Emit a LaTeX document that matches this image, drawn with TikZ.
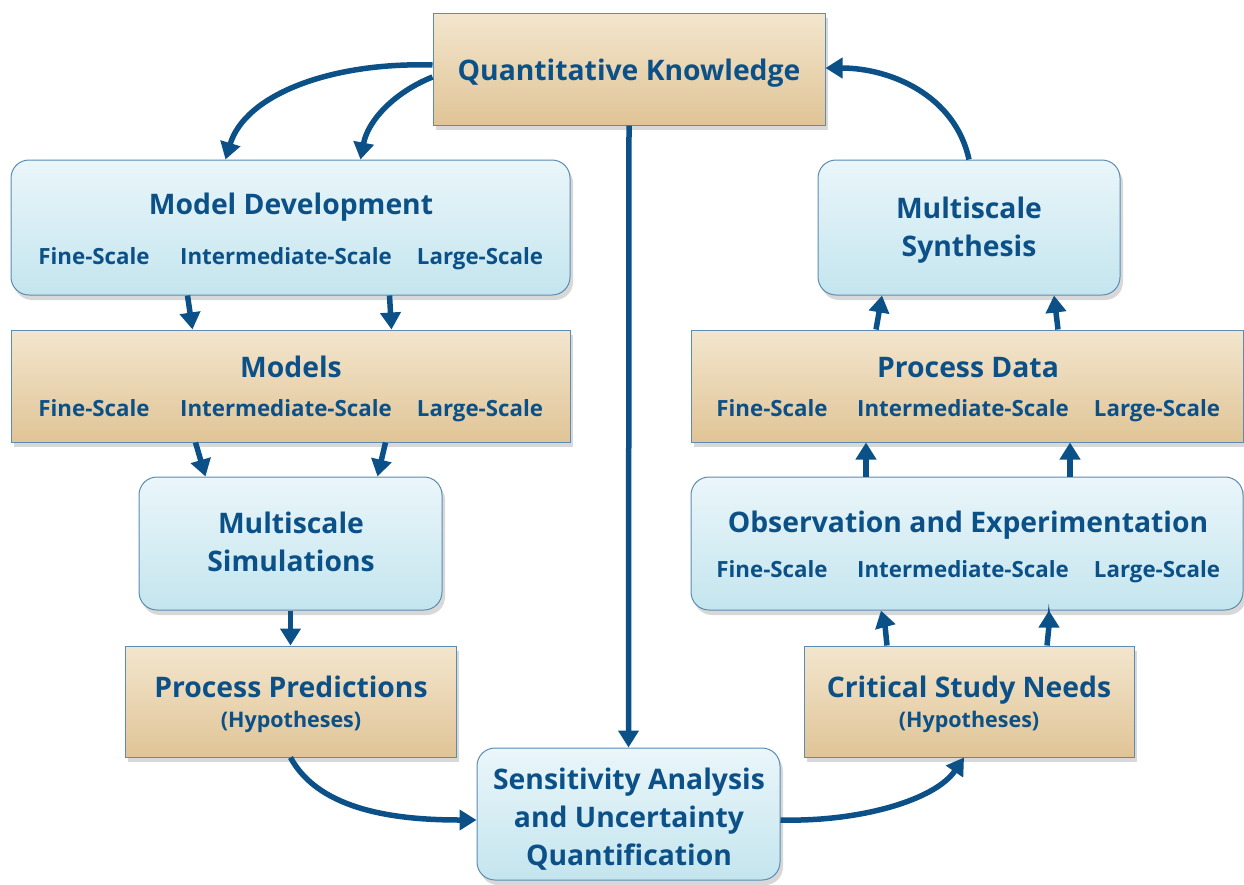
\documentclass[tikz,border=0pt]{standalone}
\usepackage{fontspec}
\setmainfont{Open Sans}
\usetikzlibrary{arrows.meta,shadows,calc}
\definecolor{dblue}{RGB}{12,80,136}
\definecolor{bordc}{RGB}{90,140,180}
\definecolor{tantop}{RGB}{243,230,206}
\definecolor{tanbot}{RGB}{224,196,150}
\definecolor{bluetop}{RGB}{234,246,250}
\definecolor{bluebot}{RGB}{196,229,238}
\tikzset{
  boxshadow/.style={drop shadow={shadow xshift=3pt,shadow yshift=-5pt,opacity=0.22,fill=black!70}},
  tanbox/.style={draw=bordc,line width=1pt,top color=tantop,bottom color=tanbot,boxshadow,inner sep=0pt},
  bluebox/.style={draw=bordc,line width=1pt,top color=bluetop,bottom color=bluebot,rounded corners=18pt,boxshadow,inner sep=0pt},
  ttl/.style={anchor=base,text=dblue,font=\fontsize{28.3}{33}\selectfont\bfseries,inner sep=0pt},
  sub/.style={anchor=base,text=dblue,font=\fontsize{22.3}{26}\selectfont\bfseries,inner sep=0pt},
  hyp/.style={anchor=base,text=dblue,font=\fontsize{21.5}{26}\selectfont\bfseries,inner sep=0pt},
  arr/.style={draw=dblue,line width=5.5pt,-{Triangle[length=17pt,width=20pt]}},
}
\begin{document}
\begin{tikzpicture}[x=1pt,y=-1pt]
\useasboundingbox (0,0) rectangle (1244,884);
% boxes
\node[tanbox,minimum width=392pt,minimum height=112pt] (qk) at (629,69) {};
\node[bluebox,minimum width=559pt,minimum height=135pt] (md) at (290.5,227.5) {};
\node[tanbox,minimum width=559pt,minimum height=112pt] (mo) at (290.5,386) {};
\node[bluebox,minimum width=303pt,minimum height=133pt] (ms) at (290.5,543.5) {};
\node[tanbox,minimum width=331pt,minimum height=111pt] (pp) at (290.5,701.5) {};
\node[bluebox,minimum width=303pt,minimum height=132pt] (sa) at (628.5,814) {};
\node[tanbox,minimum width=330pt,minimum height=111pt] (csn) at (969,701.5) {};
\node[bluebox,minimum width=552pt,minimum height=133pt] (obs) at (967,543.5) {};
\node[tanbox,minimum width=552pt,minimum height=112pt] (pd) at (967,386) {};
\node[bluebox,minimum width=302pt,minimum height=135pt] (syn) at (969,227.5) {};
% texts
\node[ttl] (tqk) at (629,80) {Quantitative Knowledge};
\node[ttl] (tmd) at (291,214) {Model Development};
\node[sub] (mdf) at (94,264) {Fine-Scale};
\node[sub] (mdi) at (286,264) {Intermediate-Scale};
\node[sub] (mdl) at (480,264) {Large-Scale};
\node[ttl] (tmo) at (291,377) {Models};
\node[sub] (mof) at (94,416) {Fine-Scale};
\node[sub] (moi) at (286,416) {Intermediate-Scale};
\node[sub] (mol) at (480,416) {Large-Scale};
\node[ttl] (tms1) at (291,533) {Multiscale};
\node[ttl] (tms2) at (291,571) {Simulations};
\node[ttl] (tpp) at (291,697) {Process Predictions};
\node[hyp] (hpp) at (291,727) {(Hypotheses)};
\node[ttl] (tsa1) at (629,789) {Sensitivity Analysis};
\node[ttl] (tsa2) at (629,827) {and Uncertainty};
\node[ttl] (tsa3) at (629,865) {Quantification};
\node[ttl] (tcsn) at (969,697) {Critical Study Needs};
\node[hyp] (hcsn) at (969,727) {(Hypotheses)};
\node[ttl] (tobs) at (968,532) {Observation and Experimentation};
\node[sub] (obf) at (772,577) {Fine-Scale};
\node[sub] (obi) at (963,577) {Intermediate-Scale};
\node[sub] (obl) at (1157,577) {Large-Scale};
\node[ttl] (tpd) at (968,377) {Process Data};
\node[sub] (pdf) at (772,416) {Fine-Scale};
\node[sub] (pdi) at (963,416) {Intermediate-Scale};
\node[sub] (pdl) at (1157,416) {Large-Scale};
\node[ttl] (tsy1) at (969,218) {Multiscale};
\node[ttl] (tsy2) at (969,256) {Synthesis};
% connectors
\draw[arr] ([yshift=4pt]qk.west) .. controls (330,62) and (245,95) .. ([xshift=-65pt]md.north);
\draw[arr] ([yshift=-8pt]qk.west) .. controls (395,92) and (368,120) .. ([xshift=70pt]md.north);
\draw[arr] ([xshift=-103pt]md.south) -- ([xshift=-98pt]mo.north);
\draw[arr] ([xshift=99pt]md.south) -- ([xshift=101pt]mo.north);
\draw[arr] ([xshift=-95pt]mo.south) -- ([xshift=-85pt]ms.north);
\draw[arr] ([xshift=95pt]mo.south) -- ([xshift=87pt]ms.north);
\draw[arr] (ms.south) -- (pp.north);
\draw[arr] (pp.south) .. controls (320,812) and (400,820) .. ([yshift=-6pt]sa.west);
\draw[arr] (qk.south) -- (sa.north);
\draw[arr] ([yshift=-6pt]sa.east) .. controls (860,822) and (935,800) .. ([xshift=-5pt]csn.south);
\draw[arr] ([xshift=-82pt]csn.north) .. controls ([xshift=-84pt]$(csn.north)+(0,-20)$) .. ([xshift=-86pt]obs.south);
\draw[arr] ([xshift=78pt]csn.north) .. controls ([xshift=80pt]$(csn.north)+(0,-20)$) .. ([xshift=82pt]obs.south);
\draw[arr] ([xshift=-101pt]obs.north) -- ([xshift=-101pt]pd.south);
\draw[arr] ([xshift=103pt]obs.north) -- ([xshift=103pt]pd.south);
\draw[arr] ([xshift=-91pt]pd.north) -- ([xshift=-87pt]syn.south);
\draw[arr] ([xshift=91pt]pd.north) -- ([xshift=85pt]syn.south);
\draw[arr] (syn.north) .. controls (955,95) and (890,68) .. ([yshift=1pt]qk.east);
\end{tikzpicture}
\end{document}
